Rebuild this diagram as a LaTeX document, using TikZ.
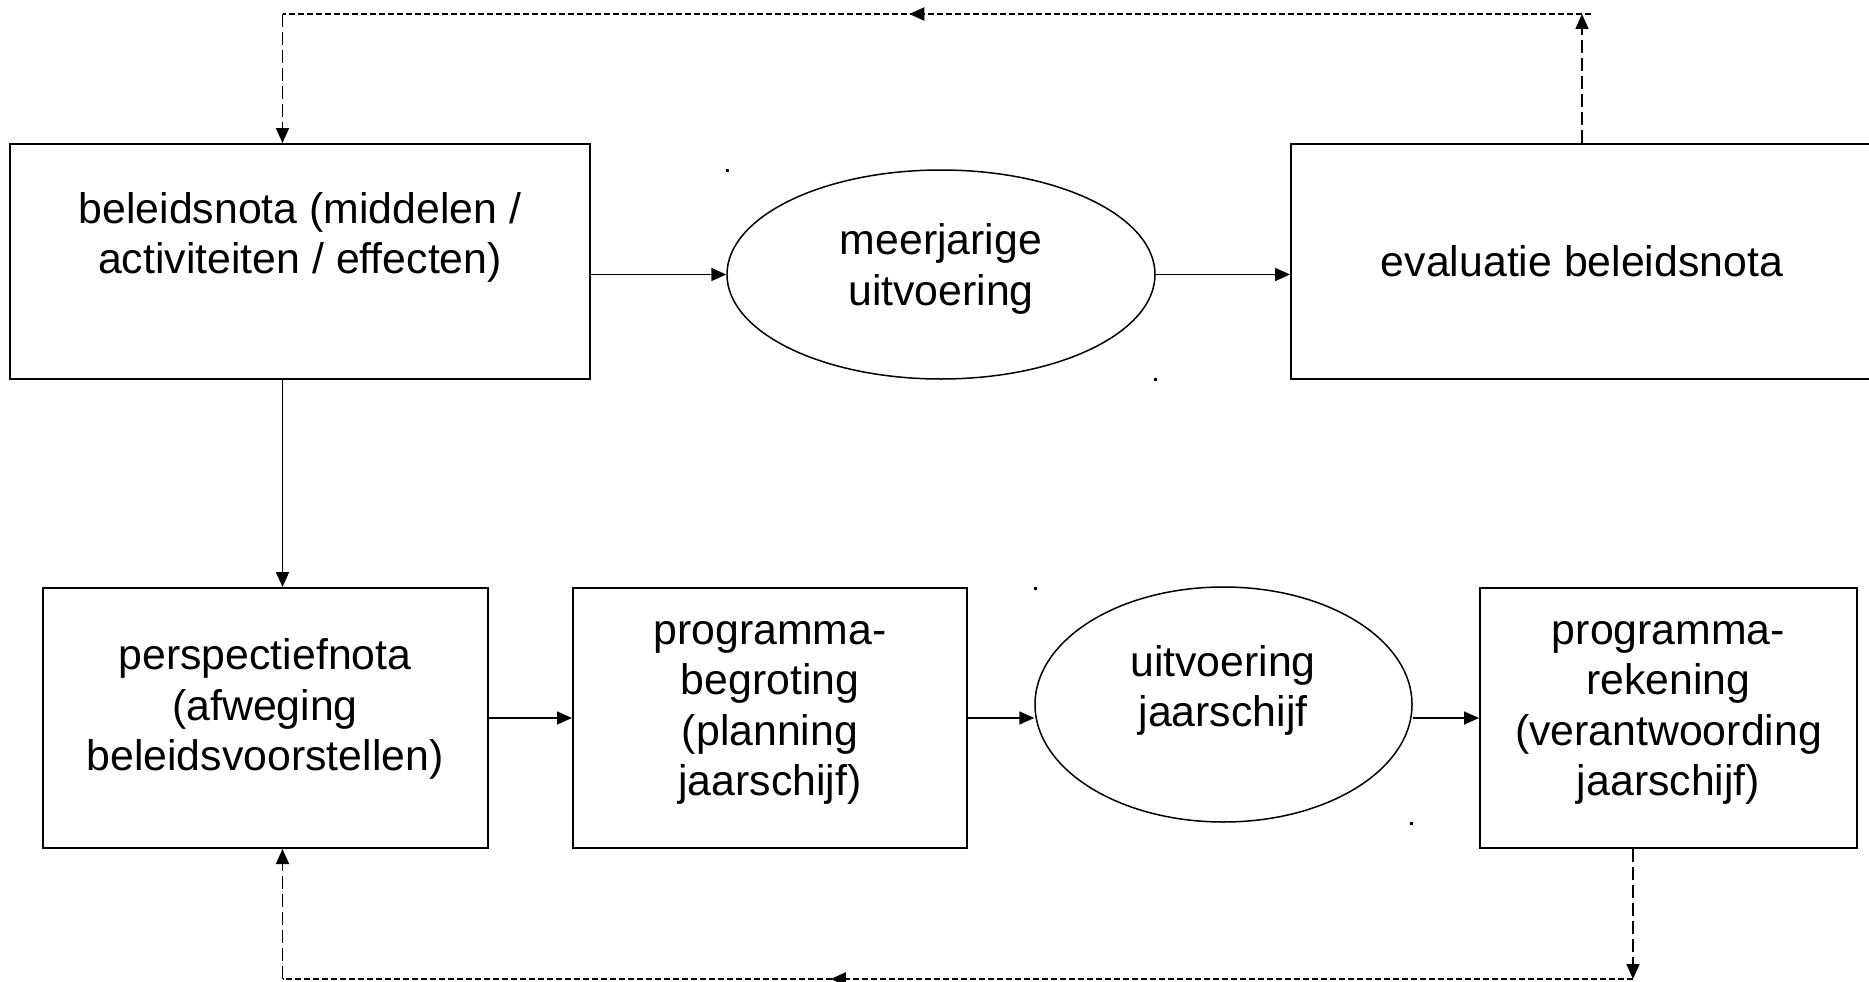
\documentclass[tikz,border=0pt]{standalone}
\usepackage{fontspec}
\setmainfont{Liberation Sans}
\usetikzlibrary{arrows.meta,decorations.markings,shapes.geometric,calc}
\begin{document}
\begin{tikzpicture}[x=1pt,y=-1pt,
  box/.style={draw, line width=2pt, rectangle, inner sep=0pt},
  oval/.style={draw, line width=1.5pt, ellipse, inner sep=0pt},
  txt/.style={align=center, font=\fontsize{42.8}{50.3}\selectfont, inner sep=0pt},
  tip/.style={-{Triangle[length=15pt,width=13pt]}},
  arr/.style={line width=1.6pt, tip},
  dsh/.style={line width=1.5pt, dash pattern=on 13pt off 5pt},
  dshh/.style={line width=2pt, dash pattern=on 6pt off 3pt},
  midarrow/.style={postaction={decorate}, decoration={markings,
    mark=at position #1 with {\arrow{Triangle[length=15pt,width=13pt]}}}},
]
\useasboundingbox (0,0) rectangle (1869,982);

% boxes
\node[box, minimum width=580.5pt, minimum height=235pt] (b1) at (299.75,261.5) {};
\node[box, minimum width=582pt, minimum height=235pt] (b3) at (1582,261.5) {};
\node[box, minimum width=444.5pt, minimum height=260pt] (b4) at (265.25,718) {};
\node[box, minimum width=394pt, minimum height=260pt] (b5) at (770,718) {};
\node[box, minimum width=377pt, minimum height=260pt] (b6) at (1668.5,718) {};
\node[oval, minimum width=428pt, minimum height=209pt] (e1) at (941,274.5) {};
\node[oval, minimum width=377pt, minimum height=235pt] (e2) at (1223.5,704.5) {};

% texts
\node[txt] (t1) at (300,237.5) {beleidsnota (middelen /\\activiteiten / effecten)};
\node[txt] (t2) at (941,269) {meerjarige\\uitvoering};
\node[txt] (t3) at (1582,261) {evaluatie beleidsnota};
\node[txt] (t4) at (265,709) {perspectiefnota\\(afweging\\beleidsvoorstellen)};
\node[txt] (t5) at (770,713) {programma-\\begroting\\(planning\\jaarschijf)};
\node[txt] (t6) at (1223,690.5) {uitvoering\\jaarschijf};
\node[txt] (t7) at (1668.5,713) {programma-\\rekening\\(verantwoording\\jaarschijf)};

% tiny marks
\fill (726,169) rectangle (729,171.5);
\fill (1154,378) rectangle (1157,380.5);
\fill (1034,587) rectangle (1037,589.5);
\fill (1410,822) rectangle (1413,824.5);

% helper coordinates
\coordinate (lx) at (282.5,0);
\coordinate (rx) at (1633,0);
\coordinate (ty) at (0,14);
\coordinate (by) at (0,979);

% solid connectors
\draw[arr] (b1.south -| lx) -- (b4.north -| lx);
\draw[arr] (b1.east |- e1.west) -- (e1.west);
\draw[arr] (e1.east) -- (e1.east -| b3.west);
\draw[arr] (b4.east) -- (b5.west);
\draw[arr] (b5.east) -- (b5.east -| e2.west);
\draw[arr] (b6.west -| e2.east) -- (b6.west);

% dashed feedback top
\draw[dsh, tip] (b3.north) -- (b3.north |- ty);
\draw[dshh, midarrow=0.521] ($(b3.north |- ty)+(9,0)$) -- (lx |- ty);
\draw[dsh, tip] (lx |- ty) -- (b1.north -| lx);

% dashed feedback bottom
\draw[dsh, tip] (b6.south -| rx) -- (rx |- by);
\draw[dshh, midarrow=0.594] (rx |- by) -- (lx |- by);
\draw[dsh, tip] (lx |- by) -- (b4.south -| lx);
\end{tikzpicture}
\end{document}
